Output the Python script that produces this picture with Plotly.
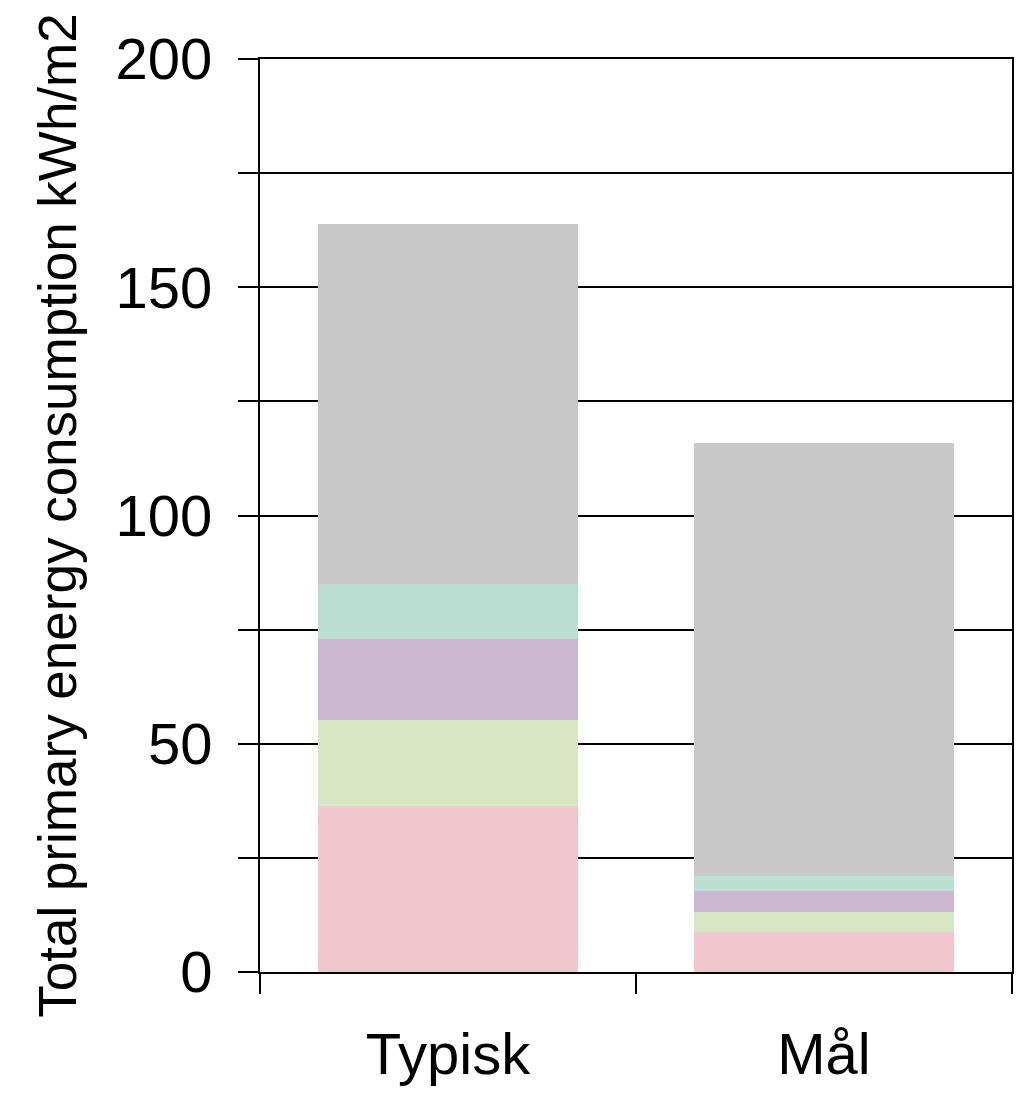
import plotly.graph_objects as go

# Data
categories = ['Typisk', 'Mål']
segment_names = ['Segment 1', 'Segment 2', 'Segment 3', 'Segment 4', 'Segment 5']
segment_values = [
    [36.4, 8.8],   # pink
    [18.8, 4.3],   # green
    [17.7, 4.6],   # purple
    [12.1, 3.3],   # teal
    [78.9, 94.9],  # grey
]
segment_colors = ['#f2c6cd', '#d7e7c4', '#cbb8d0', '#bbdfd3', '#c8c8c8']

y_tickvals = [0, 25, 50, 75, 100, 125, 150, 175, 200]
y_ticktext = ['0', '', '50', '', '100', '', '150', '', '200']

font_family = 'Liberation Sans Narrow, Arial Narrow, Liberation Sans, Arial, sans-serif'

fig = go.Figure()

for name, vals, color in zip(segment_names, segment_values, segment_colors):
    fig.add_trace(go.Bar(
        x=categories, y=vals, name=name,
        marker=dict(color=color, line=dict(width=0)),
        width=0.69,
    ))

fig.update_layout(
    barmode='stack',
    width=1022, height=1097,
    margin=dict(l=252, r=18, t=51, b=133),
    plot_bgcolor='white', paper_bgcolor='white',
    showlegend=False,
    font=dict(family=font_family, color='black'),
)

fig.update_xaxes(
    type='category', range=[-0.5, 1.5], automargin=False,
    showline=True, linecolor='black', linewidth=2, mirror=True,
    ticks='outside', tickson='boundaries', ticklen=20, tickwidth=1.5, tickcolor='black',
    showgrid=False,
    ticklabelstandoff=30,
    tickfont=dict(size=58, family=font_family),
)

fig.update_yaxes(
    range=[0, 200], automargin=False,
    tickvals=y_tickvals, ticktext=y_ticktext,
    showline=True, linecolor='black', linewidth=2, mirror=True,
    ticks='outside', ticklen=20, tickwidth=1.5, tickcolor='black',
    showgrid=True, gridcolor='black', gridwidth=1.5,
    zeroline=False,
    ticklabelstandoff=14,
    tickfont=dict(size=58, family=font_family),
    title=dict(text='Total primary energy consumption kWh/m2',
               font=dict(size=53, family=font_family), standoff=22),
)

fig.write_html('out.html')
